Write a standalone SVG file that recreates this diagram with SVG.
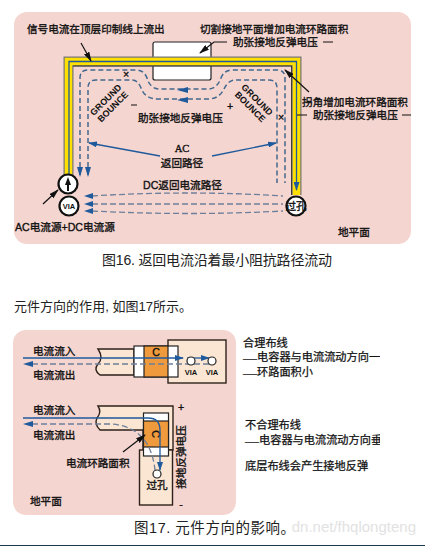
<svg xmlns="http://www.w3.org/2000/svg" width="425" height="546" viewBox="0 0 425 546">
<style>
text{font-family:"Liberation Sans","Noto Sans CJK SC",sans-serif;fill:#111}
.l{font-size:10.6px;stroke:#111;stroke-width:0.35px}
.m{font-size:11.200px;stroke:#111;stroke-width:0.25px}
.cap{font-size:14px;fill:#222}
.gb{font-size:9px;font-weight:700;text-anchor:middle}
.via{font-size:7.5px;font-weight:700;text-anchor:middle}
.c{text-anchor:middle}
.d{fill:none;stroke:#43688f;stroke-width:1.5;stroke-dasharray:5 3}
.g{fill:none;stroke:#6d7f9a;stroke-width:1.3;stroke-dasharray:6 3}
.b{fill:none;stroke:#1f5a9c;stroke-width:1.3}
.k{fill:none;stroke:#111;stroke-width:1.2}
.pad{fill:#fbe6d3;stroke:#2e211b;stroke-width:1.4}
.cw{fill:#fff;stroke:#222;stroke-width:1.2}
.cor{fill:#ef9a3c;stroke:#222;stroke-width:1.2}
.v{fill:#fff;stroke:#111;stroke-width:2.2}
.vs{fill:#fff;stroke:#222;stroke-width:1.2}
</style>
<defs>
<marker id="ab" markerWidth="9" markerHeight="6" refX="8" refY="3" orient="auto" markerUnits="userSpaceOnUse"><path d="M0 0L9 3L0 6z" fill="#1f5a9c"/></marker>
<marker id="ak" markerWidth="10" markerHeight="6" refX="9" refY="3" orient="auto" markerUnits="userSpaceOnUse"><path d="M0 0L10 3L0 6z" fill="#111"/></marker>
<clipPath id="cr"><rect x="235" y="325" width="145" height="150"/></clipPath>
</defs>
<rect width="425" height="546" fill="#fff"/>
<g id="panel-top"><rect x="14" y="12" width="397" height="232" rx="13" fill="#f5d5d0"/></g>
<g id="cut-box"><rect x="153" y="42" width="58" height="38" rx="2" fill="#fff" stroke="#222" stroke-width="1.2"/></g>
<g id="trace">
<path d="M68.500 175V61.500H296.500V195" fill="none" stroke="#777" stroke-width="10"/>
<path d="M68.500 175V61.500H296.500V195" fill="none" stroke="#ffe000" stroke-width="7.500"/>
<path d="M69 175V61.500H296.500V190" fill="none" stroke="#1f5a9c" stroke-width="1.300" marker-end="url(#ab)"/>
<path d="M73 66H291.500V195" fill="none" stroke="#222" stroke-width="0.800"/>
</g>
<g id="connectors">
<path class="d" d="M80 175V78Q80 70 88 70H136Q144 70 147 78Q150 89 160 89H208Q217 89 221 78Q224 70 232 70H277Q285 70 285 78V183"/>
<path class="d" d="M88 175V88Q88 80 96 80H132Q138 80 141 88Q145 99 158 99H208Q219 99 224 89Q228 80 236 80H269Q277 80 277 88V183"/>
<path d="M177 90l11-3v6zM177 100l11-3v6z" fill="#1f5a9c"/>
<path d="M80 177l-3-10h6zM88 177l-3-10h6z" fill="#1f5a9c"/>
<path class="b" stroke-width="1.500" d="M160 156L89 143" marker-end="url(#ab)"/>
<path class="b" stroke-width="1.500" d="M212 156L276 143" marker-end="url(#ab)"/>
<path class="g" d="M92 196Q190 190 283 196"/>
<path class="g" d="M92 204H283"/>
<path class="g" d="M92 211Q190 216 283 211"/>
<path d="M84 196l9-3v6zM84 204l9-3v6zM84 211l9-3v6z" fill="#1f5a9c"/>
<path class="k" d="M81 43L91 61" marker-end="url(#ak)"/>
<path class="k" d="M227 42H214L200 53" marker-end="url(#ak)"/>
<path class="k" d="M309 92L285 70" marker-end="url(#ak)"/>
<path class="k" d="M43 204L58 190" marker-end="url(#ak)"/>
<path class="k" d="M323 42H333M297 115H307M402 115H411M131 105H137"/>
</g>
<g id="source"><circle class="v" cx="68" cy="184" r="9.500"/><path d="M68 177l-3 8h2v6h2v-6h2z" fill="#111"/></g>
<g id="via-left"><circle class="v" cx="69" cy="206" r="9.500"/><text class="via" x="69" y="209">VIA</text></g>
<g id="via-right"><circle class="v" cx="296" cy="206" r="9.500"/><text class="l c" x="296" y="210">过孔</text></g>
<g id="labels-top">
<text class="l" x="27" y="33">信号电流在顶层印制线上流出</text>
<text class="l" x="200" y="33">切割接地平面增加电流环路面积</text>
<text class="l" x="233" y="46">助张接地反弹电压</text>
<text class="l" x="302" y="106">拐角增加电流环路面积</text>
<text class="l" x="313" y="119">助张接地反弹电压</text>
<text class="l" x="138" y="122">助张接地反弹电压</text>
<text class="l c" x="230" y="110">+</text>
<text class="l c" x="126" y="78">×</text>
<text class="l c" x="281" y="121">×</text>
<text class="gb" transform="translate(108 102) rotate(-45)">GROUND</text>
<text class="gb" transform="translate(115 109) rotate(-45)">BOUNCE</text>
<text class="gb" transform="translate(255 102) rotate(45)">GROUND</text>
<text class="gb" transform="translate(248 109) rotate(45)">BOUNCE</text>
<text class="l c" x="182" y="152" style="font-family:'Liberation Serif','Noto Sans CJK SC',serif">AC</text>
<text class="l c" x="182" y="167">返回路径</text>
<text class="l" x="143" y="189">DC返回电流路径</text>
<text class="l" x="15" y="231">AC电流源+DC电流源</text>
<text class="l" x="338" y="236">地平面</text>
</g>
<text class="cap" x="102" y="265" textLength="230">图16. 返回电流沿着最小阻抗路径流动</text>
<text class="cap" x="14" y="311" style="font-size:13px" textLength="178">元件方向的作用, 如图17所示。</text>
<g id="panel-bottom"><rect x="13" y="330" width="223" height="185" rx="13" fill="#f5d5d0"/></g>
<g id="layout-good">
<rect class="pad" x="168" y="340" width="58" height="43"/>
<path class="pad" d="M134 349H98Q104 358 98 364Q93 370 100 375H134z"/>
<rect class="cw" x="134" y="346" width="44" height="31"/>
<rect class="cor" x="144" y="346" width="24" height="31"/>
<text class="l c" x="156" y="356">C</text>
<path class="b" d="M23 358H183" stroke-width="1.500" marker-end="url(#ab)"/>
<path class="b" d="M187 358H209" stroke-width="1.500" marker-end="url(#ab)"/>
<path class="g" d="M32 364H212"/>
<path d="M23 364l10-3v6z" fill="#1f5a9c"/>
<circle class="vs" cx="191" cy="361" r="4"/><circle class="vs" cx="212" cy="361" r="4"/>
<text class="via" x="191" y="375">VIA</text><text class="via" x="212" y="375">VIA</text>
<text class="l" x="33" y="355">电流流入</text>
<text class="l" x="33" y="379">电流流出</text>
</g>
<g id="layout-bad">
<path class="pad" d="M98 406H173V450H143V430H100Q94 424 97 418Q102 412 98 406z"/>
<rect class="pad" x="139.500" y="450" width="33" height="55"/>
<rect class="cw" x="143.500" y="413" width="25" height="43"/>
<rect class="cor" x="143.500" y="421" width="25" height="26"/>
<text class="l c" transform="translate(156 434) rotate(90)" y="4">C</text>
<path class="b" d="M23 418H148Q160 418 160 430V470" stroke-width="1.500" marker-end="url(#ab)"/>
<path class="g" d="M32 424H110Q150 426 155 470"/>
<path d="M23 424l10-3v6z" fill="#1f5a9c"/>
<circle class="vs" cx="157" cy="474" r="4"/>
<path class="k" d="M123 452L145 435" marker-end="url(#ak)"/>
<text class="l c" x="157" y="489">过孔</text>
<text class="l" x="33" y="414">电流流入</text>
<text class="l" x="33" y="439">电流流出</text>
<text class="l" x="66" y="467">电流环路面积</text>
<text class="l" x="30" y="505">地平面</text>
<text class="l c" x="181" y="411">+</text>
<text class="l c" x="181" y="508">-</text>
<text class="l c" transform="translate(185 457) rotate(-90)">接地反弹电压</text>
</g>
<g id="notes" clip-path="url(#cr)">
<text class="m" x="243" y="347">合理布线</text>
<text class="m" x="243" y="361"><tspan style="font-size:7px">——</tspan>电容器与电流流动方向一</text>
<text class="m" x="243" y="376"><tspan style="font-size:7px">——</tspan>环路面积小</text>
<text class="m" x="245" y="429">不合理布线</text>
<text class="m" x="245" y="444"><tspan style="font-size:7px">——</tspan>电容器与电流流动方向垂</text>
<text class="m" x="245" y="470">底层布线会产生接地反弹</text>
</g>
<text x="416" y="532" text-anchor="end" style="font-size:15px;fill:#e2e2e2">dn.net/fhqlongteng</text>
<text class="cap" x="134" y="533" style="font-size:14.500px" textLength="161">图17. 元件方向的影响。</text>
<text x="17" y="556" style="font-size:13px">总结</text>
<rect y="545" width="425" height="1" fill="#1e3a4a"/>
</svg>
